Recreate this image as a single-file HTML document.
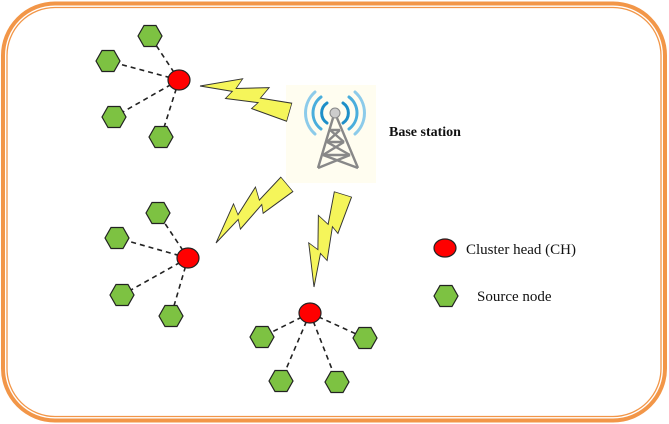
<!DOCTYPE html>
<html><head><meta charset="utf-8"><style>
html,body{margin:0;padding:0;background:#fff;}
svg{display:block;}
</style></head><body>
<svg width="669" height="424" viewBox="0 0 669 424" xmlns="http://www.w3.org/2000/svg">
<defs>
<polygon id="hx" points="-12,0 -6,-10.5 6,-10.5 12,0 6,10.5 -6,10.5" fill="#7dc242" stroke="#222" stroke-width="1.2"/>
<polygon id="bolt" points="0,0 42,-15 38,-6 72,-14 66,-4 100,-7 100,8 60,6 65,0 30,4 35,-3" fill="#f5f55a" stroke="#333" stroke-width="0.8"/>
</defs>
<rect x="3" y="3.5" width="662" height="417" rx="52" fill="none" stroke="#f29648" stroke-width="4"/>
<rect x="7" y="7.5" width="654" height="409" rx="48" fill="none" stroke="#f29648" stroke-width="1.3"/>

<g stroke="#222" stroke-width="1.6" stroke-dasharray="5,4" fill="none">
<line x1="179" y1="80" x2="150" y2="36"/><line x1="179" y1="80" x2="108" y2="61"/>
<line x1="179" y1="80" x2="114" y2="117"/><line x1="179" y1="80" x2="161" y2="137"/>
<line x1="188" y1="258" x2="158" y2="213"/><line x1="188" y1="258" x2="117" y2="238"/>
<line x1="188" y1="258" x2="122" y2="295"/><line x1="188" y1="258" x2="171" y2="316"/>
<line x1="310" y1="313" x2="262" y2="337"/><line x1="310" y1="313" x2="365" y2="338"/>
<line x1="310" y1="313" x2="281" y2="381"/><line x1="310" y1="313" x2="337" y2="382"/>
</g>
<use href="#hx" x="150" y="36"/><use href="#hx" x="108" y="61"/><use href="#hx" x="114" y="117"/><use href="#hx" x="161" y="137"/>
<use href="#hx" x="158" y="213"/><use href="#hx" x="117" y="238"/><use href="#hx" x="122" y="295"/><use href="#hx" x="171" y="316"/>
<use href="#hx" x="262" y="337"/><use href="#hx" x="365" y="338"/><use href="#hx" x="281" y="381"/><use href="#hx" x="337" y="382"/>
<ellipse cx="179" cy="80" rx="11" ry="10" fill="#f00" stroke="#222" stroke-width="1.2"/>
<ellipse cx="188" cy="258" rx="11" ry="10" fill="#f00" stroke="#222" stroke-width="1.2"/>
<ellipse cx="310" cy="313" rx="11" ry="10" fill="#f00" stroke="#222" stroke-width="1.2"/>

<rect x="286" y="85" width="90" height="98" fill="#fffdf0"/>
<use href="#bolt" transform="translate(200,86) rotate(16) scale(0.93,1.25)"/>
<use href="#bolt" transform="translate(216,243) rotate(-40) scale(0.92,1.25)"/>
<use href="#bolt" transform="translate(314,287) rotate(-73) scale(0.97,1.2)"/>

<g fill="none" stroke-linecap="round">
<path d="M327,103 A12,12 0 0 0 327,123" stroke="#1e8fc8" stroke-width="3"/>
<path d="M343,103 A12,12 0 0 1 343,123" stroke="#1e8fc8" stroke-width="3"/>
<path d="M321,97 A20,20 0 0 0 321,129" stroke="#4aaedc" stroke-width="3"/>
<path d="M349,97 A20,20 0 0 1 349,129" stroke="#4aaedc" stroke-width="3"/>
<path d="M315,92 A28,28 0 0 0 315,134" stroke="#8ccbea" stroke-width="3"/>
<path d="M355,92 A28,28 0 0 1 355,134" stroke="#8ccbea" stroke-width="3"/>
</g>
<g stroke="#888" stroke-width="2.4" fill="none">
<path d="M333,118 L318,168 M337,118 L358,168"/>
<path d="M330,130 L340,130 M327,142 L344,142 M323,155 L350,155"/>
<path d="M330,130 L344,142 M340,130 L327,142 M327,142 L350,155 M344,142 L323,155 M323,155 L358,168 M350,155 L318,168"/>
</g>
<circle cx="335" cy="113" r="5" fill="#ccc" stroke="#888" stroke-width="1"/>

<text x="389" y="136" font-family="Liberation Serif, serif" font-size="14" font-weight="bold" fill="#111">Base station</text>

<ellipse cx="445" cy="248" rx="11" ry="9" fill="#f00" stroke="#222" stroke-width="1.2"/>
<text x="466" y="254" font-family="Liberation Serif, serif" font-size="15" fill="#111">Cluster head (CH)</text>
<use href="#hx" x="446" y="296"/>
<text x="477" y="301" font-family="Liberation Serif, serif" font-size="15" fill="#111">Source node</text>
</svg>
</body></html>
